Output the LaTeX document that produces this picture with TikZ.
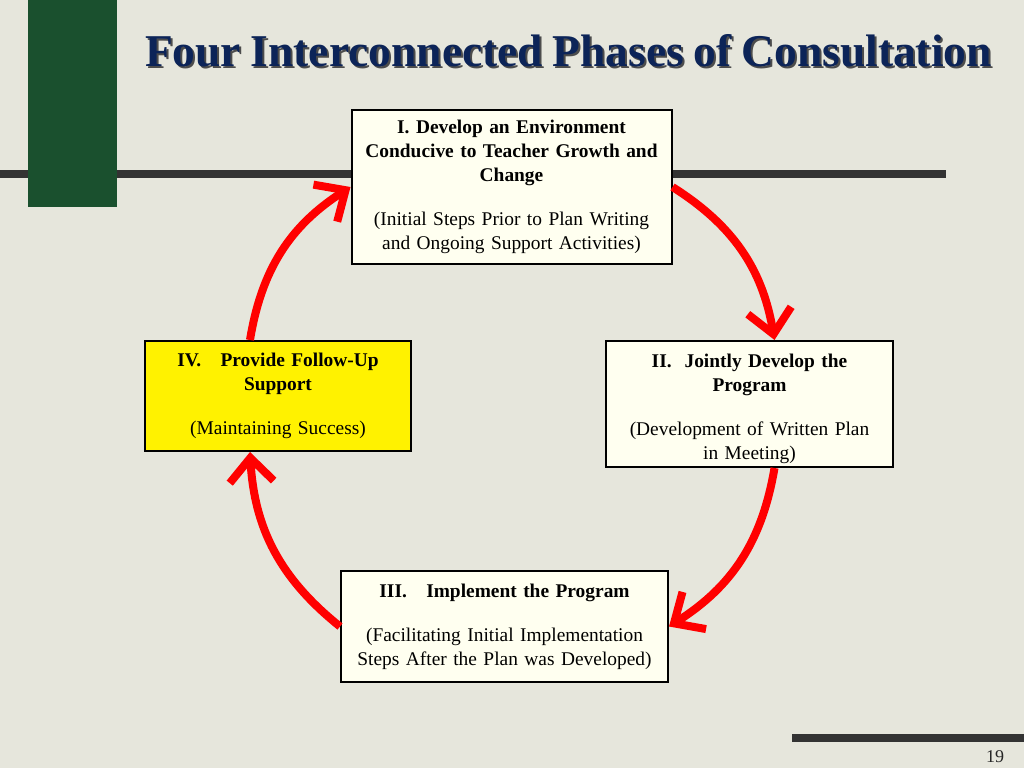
\documentclass[tikz,border=0pt]{standalone}
\usepackage{fontspec}
\setmainfont{Liberation Serif}[WordSpace=0.85]
\usetikzlibrary{arrows.meta}
\definecolor{bgc}{RGB}{230,230,220}
\definecolor{marble}{RGB}{26,80,46}
\definecolor{barc}{RGB}{51,51,51}
\definecolor{titlec}{RGB}{12,36,88}
\definecolor{creamc}{RGB}{255,255,240}
\definecolor{redc}{RGB}{255,0,0}
\tikzset{
  box/.style={draw=black, line width=2pt, fill=creamc, align=center, inner sep=0pt,
    font=\fontsize{19.4}{24}\selectfont},
  cyc/.style={draw=redc, line width=8pt, -{Straight Barb[length=24pt,width=44pt]}}
}
\begin{document}
\begin{tikzpicture}[x=1pt,y=1pt]
\fill[bgc] (0,0) rectangle (1024,-768);
\useasboundingbox (0,0) rectangle (1024,-768);
% bars
\fill[barc] (0,-170) rectangle (946,-178);
\fill[barc] (792,-734) rectangle (1024,-742);
% green marble block
\fill[marble] (28,0) rectangle (117,-207);
% title
\node[text=black!70, font=\bfseries\fontsize{45.5}{54}\selectfont] at (570.5,-53) {Four Interconnected Phases of Consultation};
\node[text=titlec, font=\bfseries\fontsize{45.5}{54}\selectfont] (title) at (568.5,-51) {Four Interconnected Phases of Consultation};
% page number
\node[font=\fontsize{18}{22}\selectfont, text=black!85] (pg) at (995,-757) {19};
% boxes
\node[box, minimum width=320pt, minimum height=154pt, text width=314pt] (I) at (511.5,-187)
 {\textbf{I. Develop an Environment}\\\textbf{Conducive to Teacher Growth and}\\\textbf{Change}\\[20pt]
  (Initial Steps Prior to Plan Writing\\and Ongoing Support Activities)};
\node[box, minimum width=287pt, minimum height=126pt, text width=282pt] (II) at (749.5,-404)
 {\rule{0pt}{23.5pt}\textbf{II.\ \ Jointly Develop the}\\\textbf{Program}\\[20pt]
  (Development of Written Plan\\in Meeting)};
\node[box, minimum width=327pt, minimum height=111pt, text width=322pt] (III) at (504.5,-626.5)
 {\textbf{III.\ \ \ Implement the Program}\\[20pt]
  (Facilitating Initial Implementation\\Steps After the Plan was Developed)};
\node[box, fill=yellow, minimum width=266pt, minimum height=110pt, text width=262pt] (IV) at (278,-396)
 {\textbf{IV.\ \ \ Provide Follow-Up}\\\textbf{Support}\\[20pt]
  (Maintaining Success)};
% cycle arrows
\draw[cyc] (I.east) to[bend left=24] ([xshift=25pt]II.north);
\draw[cyc] ([xshift=25pt]II.south) to[bend left=24] (III.east);
\draw[cyc] (III.west) to[bend left=24] ([xshift=-28pt]IV.south);
\draw[cyc] ([xshift=-28pt]IV.north) to[bend left=24] (I.west);
\end{tikzpicture}
\end{document}
